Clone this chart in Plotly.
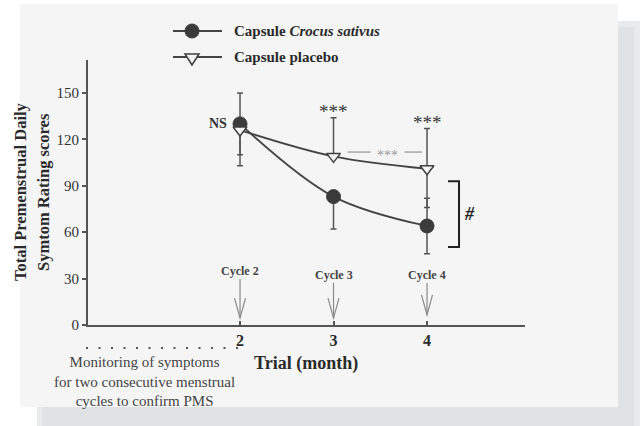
import plotly.graph_objects as go

# --- data -------------------------------------------------------------
months = [2, 3, 4]
month_ticks = ["2", "3", "4"]
cycle_labels = ["Cycle 2", "Cycle 3", "Cycle 4"]

crocus_mean = [130, 83, 64]
crocus_err_up = [20, 0, 18]
crocus_err_down = [20, 21, 18]

placebo_mean = [126, 109, 101]
placebo_err_up = [0, 25, 26]
placebo_err_down = [23, 0, 25]

y_ticks = [0, 30, 60, 90, 120, 150]

# --- layout geometry (pixels) -----------------------------------------
W_FIG, H_FIG = 644, 426
L, R, T, B = 88, 119, 60, 101
PW, PH = W_FIG - L - R, H_FIG - T - B
X_RANGE = [0.374, 5.048]
Y_RANGE = [0, 171.3]

SERIF = "Liberation Serif"
DARK = "#3b3b3b"
PANEL = "#f5f5f5"


def px(xp):
    """pixel column -> paper x"""
    return (xp - L) / PW


def py(yp):
    """pixel row -> paper y"""
    return (H_FIG - B - yp) / PH


def dx(pixels):
    return pixels * (X_RANGE[1] - X_RANGE[0]) / PW


def dy(pixels):
    return pixels * (Y_RANGE[1] - Y_RANGE[0]) / PH


fig = go.Figure()

fig.add_trace(go.Scatter(
    x=months, y=crocus_mean, mode="lines+markers",
    name="Capsule Crocus sativus",
    line=dict(color="#444444", width=1.8, shape="spline"),
    marker=dict(symbol="circle", size=14, color=DARK,
                line=dict(color=DARK, width=1)),
    error_y=dict(type="data", symmetric=False, array=crocus_err_up,
                 arrayminus=crocus_err_down, color="#555555",
                 thickness=1.5, width=3),
    cliponaxis=False, showlegend=False,
))

fig.add_trace(go.Scatter(
    x=months, y=placebo_mean, mode="lines+markers",
    name="Capsule placebo",
    line=dict(color="#444444", width=1.8, shape="spline"),
    marker=dict(symbol="triangle-down", size=12, color=PANEL,
                line=dict(color="#404040", width=1.5)),
    error_y=dict(type="data", symmetric=False, array=placebo_err_up,
                 arrayminus=placebo_err_down, color="#555555",
                 thickness=1.5, width=3),
    cliponaxis=False, showlegend=False,
))

shapes = []
annotations = []

# background card with its shadow
shapes.append(dict(type="rect", xref="paper", yref="paper", layer="below",
                   x0=px(37), x1=px(640), y0=py(426), y1=py(21),
                   fillcolor="#e7ebee", line=dict(width=0)))
shapes.append(dict(type="rect", xref="paper", yref="paper", layer="below",
                   x0=px(42), x1=px(634), y0=py(426), y1=py(27),
                   fillcolor="#dfe3e6", line=dict(width=0)))
shapes.append(dict(type="rect", xref="paper", yref="paper", layer="below",
                   x0=px(20), x1=px(618), y0=py(407), y1=py(4),
                   fillcolor=PANEL, line=dict(width=0)))

# legend, drawn by hand
legend_rows = [("Capsule <i>Crocus sativus</i>", "circle", 31),
               ("Capsule placebo", "triangle", 57)]
for text, sym, row in legend_rows:
    shapes.append(dict(type="line", xref="paper", yref="paper",
                       x0=px(173), x1=px(222), y0=py(row), y1=py(row),
                       line=dict(color="#444444", width=1.8)))
    if sym == "circle":
        shapes.append(dict(type="circle", xref="paper", yref="paper",
                           xsizemode="pixel", ysizemode="pixel",
                           xanchor=px(192), yanchor=py(row),
                           x0=-7, x1=7, y0=-7, y1=7,
                           fillcolor=DARK, line=dict(color=DARK, width=1)))
    else:
        shapes.append(dict(type="path", xref="paper", yref="paper",
                           xsizemode="pixel", ysizemode="pixel",
                           xanchor=px(192), yanchor=py(row),
                           path="M-7,3 L7,3 L0,-8 Z",
                           fillcolor=PANEL, line=dict(color="#404040", width=1.5)))
    annotations.append(dict(xref="paper", yref="paper", x=px(232), y=py(row),
                            xanchor="left", yanchor="middle", showarrow=False,
                            text=text, font=dict(family=SERIF, size=15,
                                                 color="#2a2a2a", weight="bold")))

# cycle markers: label above a thin open-headed arrow
arrow_spec = [(34.9, 29.7, 4.5), (32.3, 27.2, 4.5), (32.6, 27.2, 6.5)]
for m, lab, (ylab, ytop, ytip) in zip(months, cycle_labels, arrow_spec):
    annotations.append(dict(x=m, y=ylab, xref="x", yref="y", showarrow=False,
                            text=lab, xanchor="center", yanchor="middle",
                            font=dict(family=SERIF, size=12, color="#444444",
                                      weight="bold")))
    shapes.append(dict(type="line", xref="x", yref="y", x0=m, x1=m,
                       y0=ytop, y1=ytip, line=dict(color="#8a8a8a", width=1.2)))
    shapes.append(dict(type="path", xref="x", yref="y",
                       path=(f"M{m - dx(5.5)},{ytip + dy(20)} L{m},{ytip} "
                             f"L{m + dx(5.5)},{ytip + dy(20)}"),
                       line=dict(color="#8a8a8a", width=1.2)))

# significance marks
annotations.append(dict(x=months[0] - dx(22), y=crocus_mean[0], xref="x", yref="y",
                        showarrow=False, text="NS",
                        font=dict(family=SERIF, size=14, color="#333333",
                                  weight="bold")))
for i in (1, 2):
    top = placebo_mean[i] + placebo_err_up[i]
    annotations.append(dict(x=months[i], y=top + dy(6), xref="x", yref="y",
                            showarrow=False, text="***",
                            font=dict(family=SERIF, size=19, color="#333333")))

# between-cycle comparison of placebo (grey)
y_cmp = 111.8
shapes.append(dict(type="line", xref="x", yref="y",
                   x0=months[1] + dx(14), x1=months[1] + dx(37), y0=y_cmp, y1=y_cmp,
                   line=dict(color="#9a9a9a", width=1.3)))
shapes.append(dict(type="line", xref="x", yref="y",
                   x0=months[1] + dx(71), x1=months[2] - dx(5), y0=y_cmp, y1=y_cmp,
                   line=dict(color="#9a9a9a", width=1.3)))
annotations.append(dict(x=months[1] + dx(54), y=y_cmp - dy(3), xref="x", yref="y",
                        showarrow=False, text="***",
                        font=dict(family=SERIF, size=14, color="#9a9a9a")))

# bracket with hash at the last cycle
y_br_top, y_br_bot = 93.0, 50.4
xb = months[2] + dx(32)
shapes.append(dict(type="path", xref="x", yref="y",
                   path=(f"M{xb - dx(11)},{y_br_top} L{xb},{y_br_top} "
                         f"L{xb},{y_br_bot} L{xb - dx(11)},{y_br_bot}"),
                   line=dict(color="#222222", width=2)))
annotations.append(dict(x=xb + dx(10), y=(y_br_top + y_br_bot) / 2, xref="x", yref="y",
                        showarrow=False, text="<i>#</i>", xanchor="center",
                        font=dict(family=SERIF, size=18, color="#222222",
                                  weight="bold")))

# screening period below the axis
shapes.append(dict(type="line", xref="paper", yref="paper",
                   x0=px(86), x1=px(239), y0=py(348), y1=py(348),
                   line=dict(color="#555555", width=2, dash="2px,10.5px")))
annotations.append(dict(xref="paper", yref="paper", x=px(144), y=py(381),
                        xanchor="center", yanchor="middle", showarrow=False,
                        text=("Monitoring of symptoms<br>for two consecutive menstrual"
                              "<br>cycles to confirm PMS"),
                        font=dict(family=SERIF, size=15, color="#444444")))

# axis titles
annotations.append(dict(xref="paper", yref="paper", x=px(306), y=py(363),
                        xanchor="center", yanchor="middle", showarrow=False,
                        text="Trial (month)",
                        font=dict(family=SERIF, size=18, color="#2a2a2a",
                                  weight="bold")))
annotations.append(dict(xref="paper", yref="paper", x=px(20), y=py(192),
                        xanchor="center", yanchor="middle", showarrow=False,
                        textangle=-90, text="Total Premenstrual Daily",
                        font=dict(family=SERIF, size=16.5, color="#2a2a2a",
                                  weight="bold")))
annotations.append(dict(xref="paper", yref="paper", x=px(43), y=py(192),
                        xanchor="center", yanchor="middle", showarrow=False,
                        textangle=-90, text="Symtom Rating scores",
                        font=dict(family=SERIF, size=16.5, color="#2a2a2a",
                                  weight="bold")))

fig.update_layout(
    width=W_FIG, height=H_FIG,
    margin=dict(l=L, r=R, t=T, b=B, pad=0),
    paper_bgcolor="white",
    plot_bgcolor="rgba(0,0,0,0)",
    shapes=shapes,
    annotations=annotations,
    showlegend=False,
    xaxis=dict(range=X_RANGE, tickvals=months, ticktext=month_ticks,
               showgrid=False, zeroline=False, showline=True,
               linecolor="#555555", linewidth=2.2,
               ticks="inside", ticklen=4, tickwidth=1.5, tickcolor="#555555",
               tickfont=dict(family=SERIF, size=16, color="#2a2a2a", weight="bold")),
    yaxis=dict(range=Y_RANGE, tickvals=y_ticks,
               showgrid=False, zeroline=False, showline=True,
               linecolor="#555555", linewidth=2.2,
               ticks="outside", ticklen=4, tickwidth=1.5, tickcolor="#555555",
               tickfont=dict(family=SERIF, size=15, color="#333333")),
)

fig.write_html("out.html")
